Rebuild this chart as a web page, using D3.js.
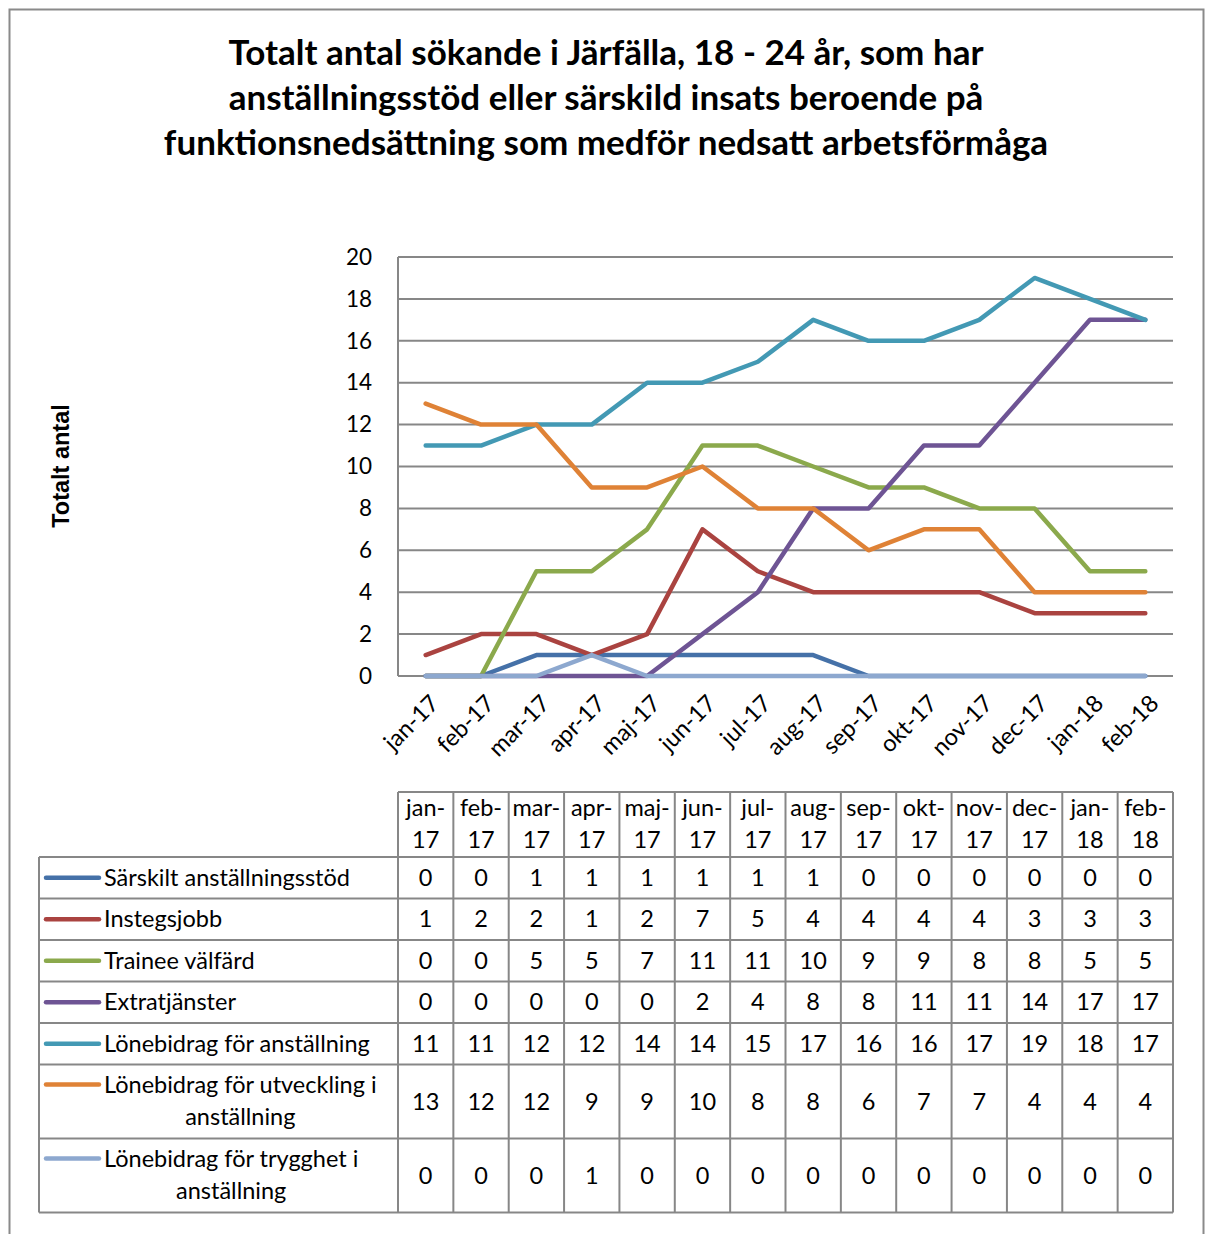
<!DOCTYPE html>
<html>
<head>
<meta charset="utf-8">
<script src="https://cdn.jsdelivr.net/npm/d3@7"></script>
<style>
  body { margin: 0; background: #fff; }
  svg { display: block; }
</style>
</head>
<body>
<svg id="chart" width="1208" height="1234"></svg>
<script>
// data
const months = ["jan-17","feb-17","mar-17","apr-17","maj-17","jun-17","jul-17",
                "aug-17","sep-17","okt-17","nov-17","dec-17","jan-18","feb-18"];

const sarskilt    = [0,0,1,1,1,1,1,1,0,0,0,0,0,0];
const instegsjobb = [1,2,2,1,2,7,5,4,4,4,4,3,3,3];
const trainee     = [0,0,5,5,7,11,11,10,9,9,8,8,5,5];
const extra       = [0,0,0,0,0,2,4,8,8,11,11,14,17,17];
const lbAnst      = [11,11,12,12,14,14,15,17,16,16,17,19,18,17];
const lbUtv       = [13,12,12,9,9,10,8,8,6,7,7,4,4,4];
const lbTrygg     = [0,0,0,1,0,0,0,0,0,0,0,0,0,0];

const seriesNames = ["Särskilt anställningsstöd", "Instegsjobb", "Trainee välfärd",
  "Extratjänster", "Lönebidrag för anställning",
  "Lönebidrag för utveckling i anställning", "Lönebidrag för trygghet i anställning"];
const seriesValues = [sarskilt, instegsjobb, trainee, extra, lbAnst, lbUtv, lbTrygg];
const colors = ["#4571A8", "#AA4340", "#8BA94C", "#6E5494", "#4399B4", "#DF8236", "#8DA8CF"];

const yTicks = d3.range(0, 21, 2);
const title = ["Totalt antal sökande i Järfälla, 18 - 24 år, som har",
  "anställningsstöd eller särskild insats beroende på",
  "funktionsnedsättning som medför nedsatt arbetsförmåga"];

const svg = d3.select("#chart");
const font = "Lato, 'Open Sans', sans-serif";
const grid = "#878787";
const tFont = "23.5px";

// frame
svg.append("rect")
  .attr("x", 9.5).attr("y", 9.5)
  .attr("width", 1194).attr("height", 1260)
  .attr("fill", "#fff").attr("stroke", "#8a8a8a").attr("stroke-width", 2);

// title
svg.append("g").selectAll("text")
  .data(title).join("text")
  .attr("x", 606).attr("y", (d, i) => 65 + i * 45)
  .attr("text-anchor", "middle")
  .style("font-family", font).style("font-weight", "bold").style("font-size", "35px")
  .text(d => d);

// scales
const x = d3.scalePoint().domain(months).range([398, 1173]).padding(0.5);
const y = d3.scaleLinear().domain([0, 20]).range([676, 257]);
const step = x.step();

// grid
svg.append("g").selectAll("line")
  .data(yTicks).join("line")
  .attr("x1", 398).attr("x2", 1173)
  .attr("y1", d => y(d)).attr("y2", d => y(d))
  .attr("stroke", grid).attr("stroke-width", 2);

svg.append("line")
  .attr("x1", 398).attr("x2", 398).attr("y1", y(20)).attr("y2", y(0))
  .attr("stroke", grid).attr("stroke-width", 2);

// y axis labels
const yAxis = svg.append("g")
  .attr("transform", "translate(398,0)")
  .call(d3.axisLeft(y).tickValues(yTicks).tickSize(0).tickPadding(26));
yAxis.select(".domain").remove();
yAxis.selectAll("text")
  .style("font-family", font).style("font-size", "22.5px").attr("fill", "#000");

// x axis labels
svg.append("g").selectAll("text")
  .data(months).join("text")
  .attr("transform", d => `translate(${x(d) + 9},${699}) rotate(-45)`)
  .attr("text-anchor", "end")
  .attr("dy", "0.35em")
  .style("font-family", font).style("font-size", tFont)
  .text(d => d);

// y title
svg.append("text")
  .attr("transform", "translate(69,466) rotate(-90)")
  .attr("text-anchor", "middle")
  .style("font-family", "'Liberation Sans', Arial, sans-serif")
  .style("font-weight", "bold").style("font-size", "23.5px")
  .text("Totalt antal");

// lines
const line = d3.line().x((d, i) => x(months[i])).y(d => y(d));
svg.append("g").selectAll("path")
  .data(seriesValues).join("path")
  .attr("d", d => line(d))
  .attr("fill", "none")
  .attr("stroke", (d, i) => colors[i])
  .attr("stroke-width", 4.5)
  .attr("stroke-linejoin", "round")
  .attr("stroke-linecap", "round");

// data table
const tbl = svg.append("g");
const left = 39, mid = 398, right = 1173;
const headTop = 792, headBot = 857;

// wrap labels
const measure = svg.append("text").style("font-family", font).style("font-size", tFont);
function wrap(s, max) {
  const words = s.split(" ");
  const lines = [];
  let cur = "";
  words.forEach(w => {
    const t = cur ? cur + " " + w : w;
    measure.text(t);
    if (measure.node().getComputedTextLength() > max && cur) { lines.push(cur); cur = w; }
    else cur = t;
  });
  lines.push(cur);
  return lines;
}
const labelLines = seriesNames.map(s => wrap(s, 290));
const w1 = labelLines.map(l => { measure.text(l[0]); return measure.node().getComputedTextLength(); });
measure.remove();

const rowTops = [headBot];
labelLines.forEach(l => rowTops.push(rowTops[rowTops.length - 1] + (l.length > 1 ? 74 : 41.5)));
const tableBot = rowTops[rowTops.length - 1];

// cell borders
const colEdges = months.map(m => x(m) - step / 2).concat([right]);
tbl.append("g").selectAll("line")
  .data(colEdges).join("line")
  .attr("x1", d => d).attr("x2", d => d)
  .attr("y1", headTop).attr("y2", tableBot)
  .attr("stroke", grid).attr("stroke-width", 2);
tbl.append("line")
  .attr("x1", mid).attr("x2", right).attr("y1", headTop).attr("y2", headTop)
  .attr("stroke", grid).attr("stroke-width", 2);
tbl.append("g").selectAll("line")
  .data(rowTops).join("line")
  .attr("x1", left).attr("x2", right)
  .attr("y1", d => d).attr("y2", d => d)
  .attr("stroke", grid).attr("stroke-width", 2);
tbl.append("line")
  .attr("x1", left).attr("x2", left).attr("y1", headBot).attr("y2", tableBot)
  .attr("stroke", grid).attr("stroke-width", 2);

// header
months.forEach(m => {
  const parts = m.split("-");
  tbl.append("text").attr("x", x(m)).attr("y", 808).attr("dy", "0.35em")
    .attr("text-anchor", "middle").style("font-family", font).style("font-size", tFont)
    .text(parts[0] + "-");
  tbl.append("text").attr("x", x(m)).attr("y", 840).attr("dy", "0.35em")
    .attr("text-anchor", "middle").style("font-family", font).style("font-size", tFont)
    .text(parts[1]);
});

// rows
seriesValues.forEach((vals, i) => {
  const top = rowTops[i], bot = rowTops[i + 1];
  const lines = labelLines[i];
  const firstY = lines.length > 1 ? top + 20 : (top + bot) / 2;
  tbl.append("line")
    .attr("x1", 46).attr("x2", 99).attr("y1", firstY).attr("y2", firstY)
    .attr("stroke", colors[i]).attr("stroke-width", 4.5).attr("stroke-linecap", "round");
  lines.forEach((l, j) => {
    tbl.append("text")
      .attr("x", j === 0 ? 104 : 104 + w1[i] / 2)
      .attr("y", firstY + j * 32).attr("dy", "0.35em")
      .attr("text-anchor", j === 0 ? "start" : "middle")
      .style("font-family", font).style("font-size", tFont)
      .text(l);
  });
  tbl.append("g").selectAll("text")
    .data(vals).join("text")
    .attr("x", (d, k) => x(months[k]))
    .attr("y", (top + bot) / 2).attr("dy", "0.35em")
    .attr("text-anchor", "middle")
    .style("font-family", font).style("font-size", tFont)
    .text(d => d);
});
</script>
</body>
</html>
